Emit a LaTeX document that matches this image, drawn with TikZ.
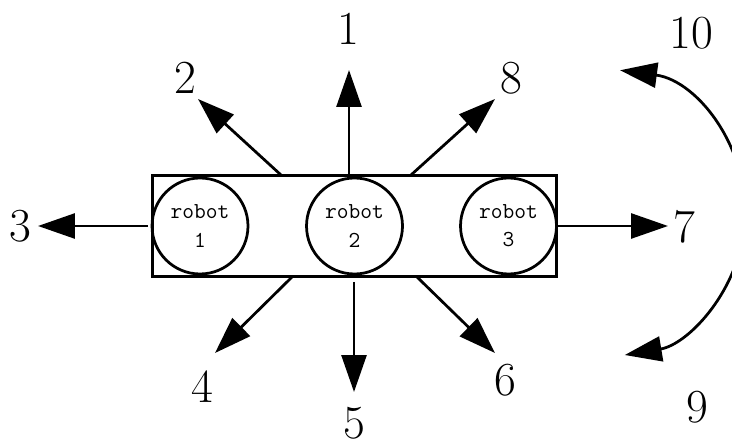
\documentclass[tikz,border=0pt]{standalone}
\usepackage{tikz}
\usetikzlibrary{arrows.meta}
\tikzset{
	robot/.style={draw, circle, line width=0.55mm, minimum size=1.92cm, inner sep=0pt, align=center, font=\ttfamily\fontsize{13}{16}\selectfont},
	dirnum/.style={inner sep=0pt, font=\fontsize{27}{30}\selectfont},
	move/.style={line width=0.55mm, -{Triangle[length=0.74cm, width=0.5cm]}},
	turn/.style={line width=0.55mm, {Triangle[length=0.74cm, width=0.5cm]}-{Triangle[length=0.74cm, width=0.5cm]}}
}

\begin{document}
\begin{tikzpicture}[x=0.02cm, y=-0.02cm]
		%%%%% START %%%%%
		\useasboundingbox (0,0) rectangle (732,445);
		
		\node[draw, line width=0.6mm, minimum width=8.1cm, minimum height=2.02cm, inner sep=0pt] (body) at (354.5,226) {};
		\node[robot] (robot1) at (200,226) {robot\\1};
		\node[robot] (robot2) at (354.5,226) {robot\\2};
		\node[robot] (robot3) at (508.5,226) {robot\\3};
		
		\node[dirnum] (d1) at (348,29) {1};
		\node[dirnum] (d2) at (185,78) {2};
		\node[dirnum] (d3) at (20,226) {3};
		\node[dirnum] (d4) at (202,387) {4};
		\node[dirnum] (d5) at (354,423) {5};
		\node[dirnum] (d6) at (505,380) {6};
		\node[dirnum] (d7) at (684,227) {7};
		\node[dirnum] (d8) at (511,78) {8};
		\node[dirnum] (d9) at (697,407) {9};
		\node[dirnum] (d10) at (691,33) {10};
		
		% arrow ends
		\coordinate (s1) at (349,175);  \coordinate (t1) at (349,70);
		\coordinate (s2) at (281,175);  \coordinate (t2) at (198,99);
		\coordinate (s3) at (148,226);  \coordinate (t3) at (38,226);
		\coordinate (s4) at (292,277);  \coordinate (t4) at (215,353);
		\coordinate (s5) at (354,282);  \coordinate (t5) at (354,392);
		\coordinate (s6) at (417,277);  \coordinate (t6) at (495,353);
		\coordinate (s7) at (557,226);  \coordinate (t7) at (668,226);
		\coordinate (s8) at (411,175);  \coordinate (t8) at (495,99);
		
		\draw[move] (s1) -- (t1);
		\draw[move] (s2) -- (t2);
		\draw[move] (s3) -- (t3);
		\draw[move] (s4) -- (t4);
		\draw[move] (s5) -- (t5);
		\draw[move] (s6) -- (t6);
		\draw[move] (s7) -- (t7);
		\draw[move] (s8) -- (t8);
		
		\coordinate (pivot) at (601,213);
		\draw[turn] (pivot) ++(-82.4:144) arc (-82.4:80.5:144);
		
		%%%%% END %%%%%
	\end{tikzpicture}
\end{document}
